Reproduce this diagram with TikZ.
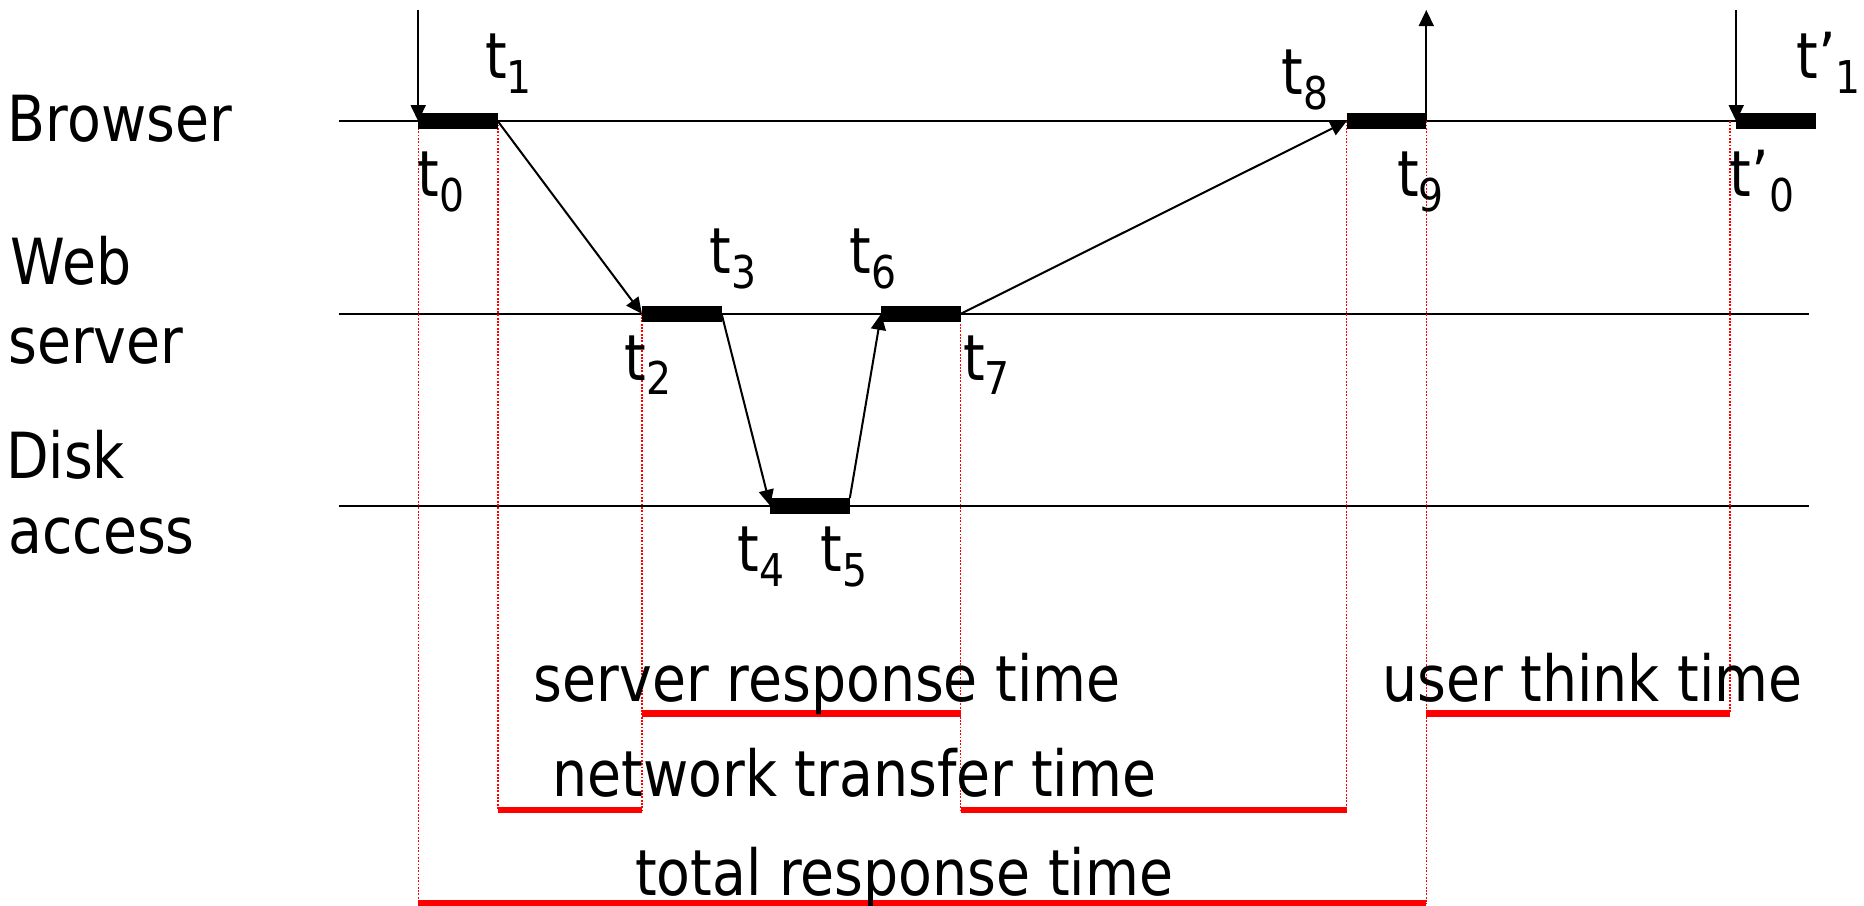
\documentclass[tikz,border=0pt]{standalone}
\usepackage{fontspec}
\setmainfont{DejaVu Sans}[FakeStretch=0.87]
\usetikzlibrary{arrows.meta}
\newcommand{\tsub}[2]{#1\raisebox{-12.5pt}{\fontsize{38}{38}\selectfont #2}}
\begin{document}
\begin{tikzpicture}[x=1pt,y=-1pt,
  every node/.style={inner sep=0pt, outer sep=0pt, font=\fontsize{53.5}{64}\selectfont},
  tl/.style={anchor=base west},
  txt/.style={anchor=base},
  bar/.style={fill=black, draw=none, minimum width=67pt, minimum height=13.2pt, inner sep=0pt},
  timeline/.style={line width=1.5pt},
  arr/.style={line width=1.7pt, -{Triangle[length=13.5pt,width=12.5pt]}},
  guide/.style={red, line width=1.1pt, dash pattern=on 1.6pt off 1.2pt},
  span/.style={red, line width=5.8pt}]
\useasboundingbox (0,0) rectangle (1568,762);

% timelines
\coordinate (bL) at (285,102);   \coordinate (bR) at (1527,102);
\coordinate (wL) at (285,264);   \coordinate (wR) at (1522,264);
\coordinate (dL) at (285,425.5); \coordinate (dR) at (1522,425.5);
\draw[timeline] (bL) -- (bR);
\draw[timeline] (wL) -- (wR);
\draw[timeline] (dL) -- (dR);

% bar positions
\path (385.3,102) coordinate (p01) (1166.3,102) coordinate (p89) (1494,102) coordinate (pp)
      (573.5,264) coordinate (p23) (774.7,264) coordinate (p67) (681.4,425.5) coordinate (p45);

% guide coordinates
\coordinate (g0) at (351.8,760.2);
\coordinate (g1) at (418.8,681.4);
\coordinate (g2) at (540,681.4);
\coordinate (g7) at (808.2,681.4);
\coordinate (g8) at (1132.8,681.4);
\coordinate (g9) at (1199.8,760.2);
\coordinate (gpT) at (1455.2,102);
\coordinate (gpB) at (1455.2,600.3);

\draw[guide] (351.8,102) -- (g0);
\draw[guide] (418.8,102) -- (g1);
\draw[guide] (540,264) -- (g2);
\draw[guide] (808.2,264) -- (g7);
\draw[guide] (1132.8,102) -- (g8);
\draw[guide] (1199.8,102) -- (g9);
\draw[guide] (gpT) -- (gpB);

% bars
\node[bar] (b01) at (p01) {};
\node[bar] (b89) at (p89) {};
\node[bar] (bp)  at (pp)  {};
\node[bar] (b23) at (p23) {};
\node[bar] (b67) at (p67) {};
\node[bar] (b45) at (p45) {};

% spans
\coordinate (s2) at (540,600.3);   \coordinate (s7) at (808.2,600.3);
\coordinate (s9) at (1199.8,600.3);
\coordinate (n1) at (418.8,681.4); \coordinate (n2) at (540,681.4);
\coordinate (n7) at (808.2,681.4); \coordinate (n8) at (1132.8,681.4);
\coordinate (t0c) at (351.8,760.2); \coordinate (t9c) at (1199.8,760.2);
\draw[span] (s2) -- (s7);
\draw[span] (s9) -- (gpB);
\draw[span] (n1) -- (n2);
\draw[span] (n7) -- (n8);
\draw[span] (t0c) -- (t9c);

% arrows
\coordinate (in0) at (351.8,8.4);
\coordinate (out9) at (1199.8,8.4);
\coordinate (inp) at (1460.5,8.4);
\draw[arr] (in0) -- (b01.west);
\draw[arr] (b89.east) -- (out9);
\draw[arr] (inp) -- (bp.west);
\draw[arr] (b01.east) -- (b23.west);
\draw[arr] (b23.east) -- (b45.west);
\draw[arr] (b45.north east) -- (b67.west);
\draw[arr] (b67.east) -- (b89.west);

% row labels
\node[tl] (lbrowser) at (6.7,119.2) {Browser};
\node[tl] (lweb) at (9,239.7) {Web};
\node[tl] (lserver) at (7,305.6) {server};
\node[tl] (ldisk) at (5.2,402.4) {Disk};
\node[tl] (laccess) at (7,465.5) {access};

% time labels
\node[tl] (lt0) at (351.5,165.4) {\tsub{t}{0}};
\node[tl] (lt1) at (408,65.9) {\tsub{t}{1}};
\node[tl] (lt2) at (525.5,319.7) {\tsub{t}{2}};
\node[tl] (lt3) at (597,229.9) {\tsub{t}{3}};
\node[tl] (lt4) at (620.5,480.9) {\tsub{t}{4}};
\node[tl] (lt5) at (690.5,480.9) {\tsub{t}{5}};
\node[tl] (lt6) at (715,229.9) {\tsub{t}{6}};
\node[tl] (lt7) at (810.3,319.7) {\tsub{t}{7}};
\node[tl] (lt8) at (1078,79.9) {\tsub{t}{8}};
\node[tl] (lt9) at (1175.3,165.4) {\tsub{t}{9}};
\node[tl] (ltp0) at (1455.2,165.4) {\tsub{t’}{0}};
\node[tl] (ltp1) at (1511.2,65.9) {\tsub{t’}{1}};

% span labels
\node[txt] (lsrt) at (695.9,590.2) {server response time};
\node[txt] (lntt) at (718.75,670.2) {network transfer time};
\node[txt] (ltrt) at (760.55,752.9) {total response time};
\node[txt] (lutt) at (1339.55,590.2) {user think time};
\end{tikzpicture}
\end{document}
